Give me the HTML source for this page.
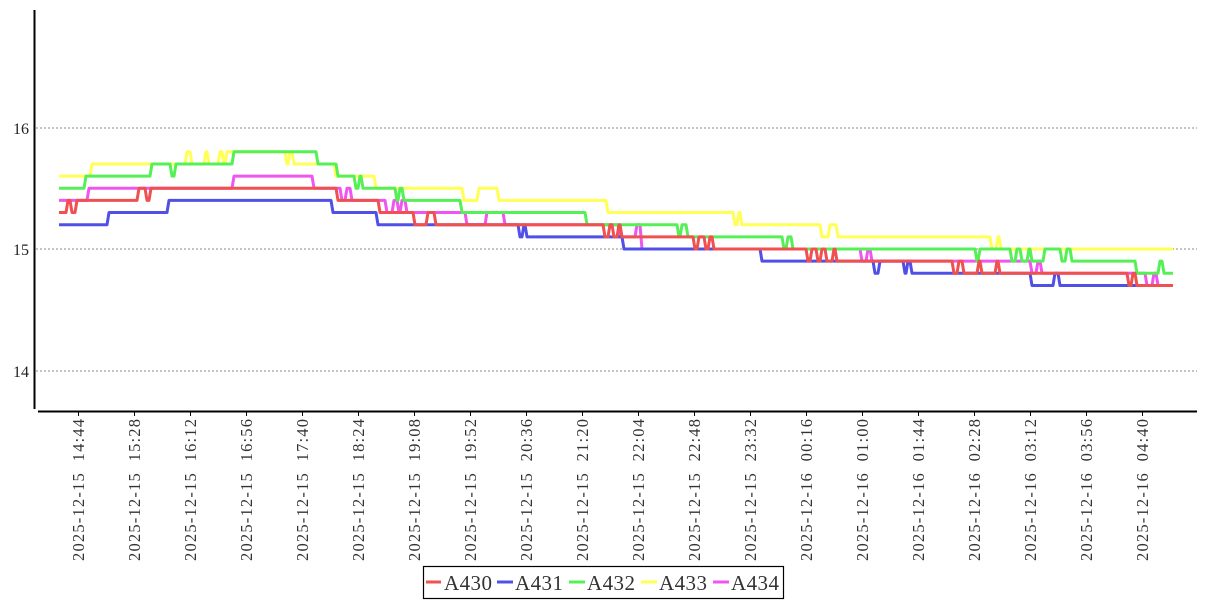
<!DOCTYPE html>
<html><head><meta charset="utf-8"><style>
body{margin:0;background:#fff;}
svg{display:block;font-family:"Liberation Serif","DejaVu Serif",serif;}
</style></head><body>
<svg id="c" width="1207" height="600" viewBox="0 0 1207 600" xmlns="http://www.w3.org/2000/svg">
<rect width="1207" height="600" fill="#fff"/>
<g stroke="#888" stroke-width="1" stroke-dasharray="2,2">
<line x1="36" y1="128" x2="1197" y2="128"/>
<line x1="36" y1="249" x2="1197" y2="249"/>
<line x1="36" y1="371" x2="1197" y2="371"/>
</g>
<g font-size="16" fill="#222" text-anchor="end">
<text x="29" y="134">16</text><text x="29" y="255">15</text><text x="29" y="377">14</text>
</g>
<line x1="34.5" y1="10" x2="34.5" y2="409" stroke="#000" stroke-width="2"/>
<line x1="38" y1="411.5" x2="1197" y2="411.5" stroke="#000" stroke-width="2"/>
<g id="series" fill="none" stroke-width="3" stroke-linejoin="round"></g>
<g id="xt"></g>
<rect x="423.5" y="566.5" width="360" height="32" fill="#fff" stroke="#000" stroke-width="1.2"/>
<g stroke-width="3">
<line x1="426" y1="582" x2="441" y2="582" stroke="#f05050"/>
<line x1="497" y1="582" x2="513" y2="582" stroke="#5050e8"/>
<line x1="569" y1="582" x2="585" y2="582" stroke="#55f055"/>
<line x1="641" y1="582" x2="657" y2="582" stroke="#ffff55"/>
<line x1="713" y1="582" x2="729" y2="582" stroke="#f055f0"/>
</g>
<g font-size="21" fill="#333">
<text x="444" y="590" textLength="48">A430</text><text x="515" y="590" textLength="48">A431</text><text x="587" y="590" textLength="48">A432</text><text x="659" y="590" textLength="48">A433</text><text x="731" y="590" textLength="48">A434</text>
</g>
</svg>
<script>
function Y(v){return 249-(v-15)*121.5;}
function step(pts){var d="",prev=null;for(var i=0;i<pts.length;i++){var x=pts[i][0],y=Y(pts[i][1]);if(i==0)d="M"+x+" "+y;else{d+=" L"+x+" "+Y(prev)+" L"+(x+2)+" "+y;}prev=pts[i][1];}d+=" L1173 "+Y(prev);return d;}
var S=[
["#ffff55",[[59,15.6],[90,15.7],[185,15.8],[190,15.7],[204,15.8],[207,15.7],[218,15.8],[222,15.7],[225,15.8],[232,15.8],[285,15.7],[288,15.8],[292,15.7],[334,15.6],[374,15.5],[462,15.4],[477,15.5],[497,15.4],[606,15.3],[616,15.3],[733,15.2],[737,15.3],[740,15.2],[820,15.1],[828,15.2],[836,15.1],[990,15.0],[996,15.1],[999,15.0]]],
["#f055f0",[[59,15.4],[87,15.5],[232,15.6],[312,15.5],[340,15.4],[345,15.5],[350,15.4],[385,15.3],[392,15.4],[397,15.3],[400,15.4],[405,15.3],[465,15.2],[485,15.3],[503,15.2],[618,15.1],[635,15.2],[640,15.0],[860,14.9],[866,15.0],[870,14.9],[1030,14.8],[1036,14.9],[1040,14.8],[1145,14.7],[1152,14.8],[1156,14.7]]],
["#55f055",[[59,15.5],[84,15.6],[150,15.7],[170,15.6],[174,15.7],[232,15.8],[316,15.7],[336,15.6],[354,15.5],[358,15.6],[361,15.5],[395,15.4],[398,15.5],[402,15.4],[460,15.3],[585,15.2],[677,15.1],[680,15.2],[686,15.1],[782,15.0],[786,15.1],[791,15.0],[975,14.9],[978,15.0],[1010,14.9],[1015,15.0],[1020,14.9],[1027,15.0],[1030,14.9],[1043,15.0],[1060,14.9],[1065,15.0],[1070,14.9],[1135,14.8],[1158,14.9],[1162,14.8]]],
["#5050e8",[[59,15.2],[107,15.3],[167,15.4],[331,15.3],[376,15.2],[518,15.1],[522,15.2],[525,15.1],[622,15.0],[760,14.9],[873,14.8],[878,14.9],[903,14.8],[906,14.9],[910,14.8],[1030,14.7],[1053,14.8],[1058,14.7]]],
["#f05050",[[59,15.3],[66,15.4],[70,15.3],[75,15.4],[137,15.5],[145,15.4],[149,15.5],[336,15.4],[378,15.3],[413,15.2],[426,15.3],[434,15.2],[603,15.1],[608,15.2],[612,15.1],[617,15.2],[620,15.1],[693,15.0],[697,15.1],[704,15.0],[708,15.1],[712,15.0],[806,14.9],[810,15.0],[816,14.9],[820,15.0],[825,14.9],[832,15.0],[835,14.9],[952,14.8],[957,14.9],[962,14.8],[977,14.9],[980,14.8],[995,14.9],[998,14.8],[1127,14.7],[1131,14.8],[1135,14.7]]]
];
var g=document.getElementById("series"),ns="http://www.w3.org/2000/svg";
S.forEach(function(s){var p=document.createElementNS(ns,"path");p.setAttribute("d",step(s[1]));p.setAttribute("stroke",s[0]);g.appendChild(p);});
var labels=["2025-12-15  14:44","2025-12-15  15:28","2025-12-15  16:12","2025-12-15  16:56","2025-12-15  17:40","2025-12-15  18:24","2025-12-15  19:08","2025-12-15  19:52","2025-12-15  20:36","2025-12-15  21:20","2025-12-15  22:04","2025-12-15  22:48","2025-12-15  23:32","2025-12-16  00:16","2025-12-16  01:00","2025-12-16  01:44","2025-12-16  02:28","2025-12-16  03:12","2025-12-16  03:56","2025-12-16  04:40"];
var xt=document.getElementById("xt");
labels.forEach(function(l,i){var x=78.5+i*56;var ln=document.createElementNS(ns,"line");ln.setAttribute("x1",x);ln.setAttribute("x2",x);ln.setAttribute("y1",412);ln.setAttribute("y2",416);ln.setAttribute("stroke","#000");xt.appendChild(ln);
var t=document.createElementNS(ns,"text");t.setAttribute("transform","translate("+(x+5.5)+",419) rotate(-90)");t.setAttribute("text-anchor","end");t.setAttribute("font-size","16.5");t.setAttribute("fill","#333");t.setAttribute("textLength","142");t.setAttribute("lengthAdjust","spacing");t.style.whiteSpace="pre";t.textContent=l;xt.appendChild(t);});
</script>
</body></html>
